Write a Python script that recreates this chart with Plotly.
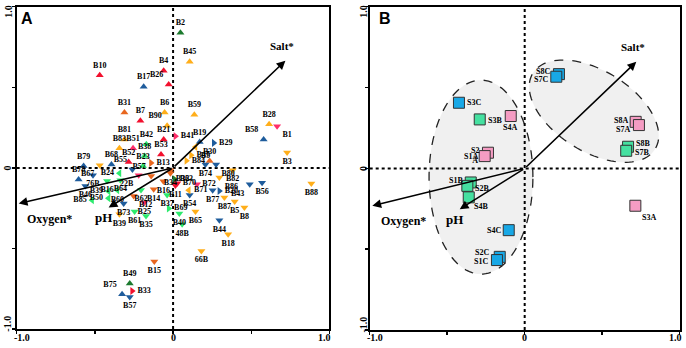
import numpy as np
import plotly.graph_objects as go

# ---------------- Panel A : species scores ----------------
a_labels = ["B2","B45","B10","B4","B17","B26","B31","B6","B59","B7","B90","B28","B1","B58","B81","B21","B41","B19","B29","B83",
            "B51","B42","B9","B53","B38","B52","B47","B30","B84","B23","B13","B79","B68","B67","B74","B80","B82","B3","B88","B43",
            "B56","B78","76B","B46","B24","B85","B16","B64","B39","B50","B60","B62","B14","B16","B34","B63","B70","B11","B37","B54",
            "B71","B72","B86","B20","B77","B87","B5","B8","B44","B18","66B","B65","B40","48B","B69","B35","B61","B39","B73","B12",
            "B25","B15","B49","B75","B33","B57","B55","22B","B32","B57"]
a_x = [0.047,0.106,-0.469,-0.060,-0.188,-0.028,-0.311,-0.054,0.136,-0.209,-0.038,0.614,0.665,0.579,-0.311,-0.060,0.015,0.170,0.260,-0.343,
       -0.256,-0.171,0.143,-0.077,-0.182,-0.284,0.115,0.234,0.085,-0.192,-0.141,-0.572,-0.394,-0.469,0.207,0.275,0.381,0.729,0.884,0.490,
       0.569,-0.604,-0.512,-0.561,-0.343,-0.518,-0.422,-0.337,-0.413,-0.413,-0.356,-0.205,-0.124,-0.062,-0.017,0.008,0.027,0.015,-0.038,0.106,
       0.100,0.153,0.296,0.296,0.253,0.328,0.394,0.456,0.296,0.352,0.181,0.143,0.040,0.058,-0.028,-0.173,-0.246,-0.343,-0.316,-0.252,
       -0.184,-0.120,-0.277,-0.326,-0.262,-0.277,-0.260,-0.220,-0.017,-0.140]
a_y = [0.839,0.658,0.574,0.602,0.503,0.518,0.344,0.344,0.329,0.292,0.261,0.270,0.259,0.176,0.176,0.176,0.197,0.161,0.155,0.122,
       0.122,0.147,0.130,0.083,0.073,0.037,0.079,0.042,0.044,0.011,0.031,0.012,0.021,0.017,0.021,0.021,-0.014,0.096,-0.097,-0.101,
       -0.093,-0.072,-0.045,-0.112,-0.033,-0.201,-0.081,-0.076,-0.145,-0.188,-0.139,-0.137,-0.132,-0.083,-0.033,-0.070,-0.095,-0.110,-0.168,-0.168,
       -0.139,-0.101,-0.060,-0.143,-0.139,-0.184,-0.209,-0.246,-0.325,-0.412,-0.516,-0.271,-0.283,-0.350,-0.252,-0.298,-0.271,-0.288,-0.221,-0.174,
       -0.215,-0.581,-0.718,-0.784,-0.764,-0.801,-0.010,-0.045,-0.014,-0.050]
a_group = ["dkgreen_up","orange_up","red_up","red_up","blue_up","red_up","dkorange_up","orange_up","orange_up","red_up",
           "orange_up","orange_up","pink_down","blue_up","orange_up","red_up","pink_right","blue_up","blue_right","orange_up",
           "pink_up","green_up","orange_left","red_up","green_up","red_up","orange_right","dkorange_up","orange_right","green_up",
           "dkorange_right","blue_up","blue_up","orange_down","blue_down","blue_down","orange_down","orange_down","orange_down","blue_down",
           "blue_down","blue_up","blue_down","blue_down","green_left","green_left","green_down","green_down","green_left","green_left",
           "green_left","green_down","dkorange_down","dkorange_down","dkorange_down","dkgreen_right","red_down","red_down","green_down","blue_down",
           "orange_left","pink_down","orange_down","blue_right","blue_down","orange_down","orange_down","orange_down","blue_down","orange_down",
           "orange_down","orange_down","green_down","green_down","green_right","green_down","green_down","orange_down","blue_down","dkorange_down",
           "pink_down","dkorange_down","dkgreen_up","blue_up","red_right","blue_down","blue_down","pink_down","dkorange_down","dkorange_down"]
a_textpos = ["top center","top center","top center","top center","top center","top left","top center","top center","top center","top center",
             "top left","top center","bottom right","top left","top center","top center","middle right","top center","middle right","top center",
             "top center","top center","bottom right","top center","top center","top center","middle right","top center","middle right","top center",
             "middle right","top center","top center","bottom left","bottom center","bottom right","bottom center","bottom center","bottom center","bottom left",
             "bottom center","top center","bottom center","bottom center","middle left","middle left","bottom center","bottom center","middle left","middle left",
             "bottom center","bottom center","bottom center","bottom center","bottom center","middle right","middle right","bottom center","bottom center","bottom center",
             "middle right","middle right","bottom right","middle right","bottom center","bottom center","bottom center","bottom center","bottom center","bottom center",
             "bottom center","bottom center","bottom center","bottom center","middle right","bottom center","bottom center","bottom center","bottom center","bottom right",
             "bottom center","bottom center","top center","top left","middle right","bottom center","top left","bottom left","bottom right","top left"]

# ---------------- Panel B : sample scores ----------------
b_labels = ["S8C","S7C","S3C","S3B","S4A","S2A","S1A","S8A","S7A","S8B","S7B","S1B","S2B","S4B","S4C","S2C","S1C","S3A"]
b_x = [0.221,0.204,-0.424,-0.290,-0.090,-0.237,-0.258,0.716,0.737,0.667,0.655,-0.348,-0.370,-0.361,-0.103,-0.161,-0.179,0.714]
b_y = [0.583,0.567,0.406,0.303,0.324,0.097,0.076,0.288,0.268,0.134,0.109,-0.087,-0.108,-0.179,-0.382,-0.547,-0.567,-0.231]
b_group = ["C","C","C","B","A","A","A","A","A","B","B","B","B","B","C","C","C","A"]
b_text = ["S8C","S7C","S3C","S3B","S4A","S2<br>A","S1A","S8A","S7A","S8B","S7B","S1B","S2B","S4B","S4C","S2C","S1C","S3A"]

# ---------------- Environmental vectors ----------------
env_names = ["Salt*", "Oxygen*", "pH"]
envA_x = [0.718, -0.987, -0.412]
envA_y = [0.665, -0.221, -0.246]
envB_x = [0.720, -0.983, -0.419]
envB_y = [0.659, -0.231, -0.252]

# ---------------- styles ----------------
colA = {"red": "#F2102E", "pink": "#FF2E6A", "blue": "#1E5C9C", "orange": "#FFAE1A",
        "dkorange": "#E8661E", "green": "#2DEB6E", "dkgreen": "#1C7A2E"}
symA = {"up": "triangle-up", "down": "triangle-down", "left": "triangle-left", "right": "triangle-right"}
colB = {"A": "#F59CC3", "B": "#45E0A0", "C": "#18A8E6"}
# label placement for panel B: (xanchor, xshift px, yshift px)
b_lab_style = {"S8C": ("right", -7, 3), "S7C": ("right", -6, -3), "S3C": ("left", 6, 0), "S3B": ("left", 6, -1),
               "S4A": ("center", -1, -11), "S2A": ("right", -7, -3), "S1A": ("right", -5, 0), "S8A": ("right", -6, 1),
               "S7A": ("right", -7, -4), "S8B": ("left", 6, 3), "S7B": ("left", 7, -2), "S1B": ("right", -6, 2),
               "S2B": ("left", 6, -3), "S4B": ("left", 3, -9), "S4C": ("right", -6, 0), "S2C": ("right", -9, 4),
               "S1C": ("right", -7, -1), "S3A": ("center", 14, -12)}

SERIF = "Liberation Serif, Times New Roman, serif"

fig = go.Figure()

fig.add_trace(go.Scatter(
    x=a_x, y=a_y, mode="markers+text",
    text=["<b>%s</b>" % t for t in a_labels], textposition=a_textpos,
    textfont=dict(family=SERIF, size=8, color="black"),
    marker=dict(size=7, color=[colA[g.split("_")[0]] for g in a_group],
                symbol=[symA[g.split("_")[1]] for g in a_group], line=dict(width=0)),
    xaxis="x", yaxis="y", showlegend=False, cliponaxis=False))

fig.add_trace(go.Scatter(
    x=b_x, y=b_y, mode="markers",
    marker=dict(size=11, color=[colB[g] for g in b_group], symbol="square",
                line=dict(width=1, color="#333333")),
    xaxis="x2", yaxis="y2", showlegend=False, cliponaxis=False))

shapes = []

def ellipse_path(cx, cy, a, b, ang_deg, n=120):
    t = np.linspace(0, 2 * np.pi, n)
    th = np.radians(ang_deg)
    xs = cx + a * np.cos(t) * np.cos(th) - b * np.sin(t) * np.sin(th)
    ys = cy + a * np.cos(t) * np.sin(th) + b * np.sin(t) * np.cos(th)
    return "M " + " L ".join("%.4f,%.4f" % (x, y) for x, y in zip(xs, ys)) + " Z"

for (cx, cy, a, b, ang) in [(-0.282, -0.054, 0.335, 0.60, 0.0), (0.447, 0.354, 0.459, 0.2525, -29.8)]:
    shapes.append(dict(type="path", path=ellipse_path(cx, cy, a, b, ang), xref="x2", yref="y2",
                       fillcolor="#F0F0F0", line=dict(color="#222222", width=1.3, dash="dash"), layer="below"))

for xr, yr in [("x", "y"), ("x2", "y2")]:
    shapes.append(dict(type="line", x0=0, x1=0, y0=-1, y1=1, xref=xr, yref=yr,
                       line=dict(color="black", width=2, dash="dot"), layer="below"))
    shapes.append(dict(type="line", x0=-1, x1=1, y0=0, y1=0, xref=xr, yref=yr,
                       line=dict(color="black", width=2, dash="dot"), layer="below"))

annotations = []
label_off = {"Salt*": (-0.02, 0.09), "Oxygen*": (0.2, -0.095), "pH": (-0.035, -0.065)}
label_size = {"Salt*": 11, "Oxygen*": 12, "pH": 13}
for (xs, ys, xr, yr) in [(envA_x, envA_y, "x", "y"), (envB_x, envB_y, "x2", "y2")]:
    for name, ex, ey in zip(env_names, xs, ys):
        annotations.append(dict(x=ex, y=ey, ax=0, ay=0, xref=xr, yref=yr, axref=xr, ayref=yr,
                                text="", showarrow=True, arrowhead=2, arrowsize=1.1,
                                arrowwidth=1.6, arrowcolor="black"))
        dx, dy = label_off[name]
        annotations.append(dict(x=ex + dx, y=ey + dy, xref=xr, yref=yr, text="<b>%s</b>" % name,
                                showarrow=False, font=dict(family=SERIF, size=label_size[name], color="black")))

# panel B sample labels
for lab, txt, x, y in zip(b_labels, b_text, b_x, b_y):
    xa, xs_, ys_ = b_lab_style[lab]
    annotations.append(dict(x=x, y=y, xref="x2", yref="y2", text="<b>%s</b>" % txt, showarrow=False,
                            xanchor=xa, yanchor="middle", xshift=xs_, yshift=ys_,
                            font=dict(family=SERIF, size=8, color="black")))

annotations.append(dict(x=0.028, y=0.947, xref="paper", yref="paper", text="<b>A</b>", showarrow=False,
                        xanchor="left", yanchor="middle", font=dict(family="Liberation Sans, Arial", size=16, color="black")))
annotations.append(dict(x=0.549, y=0.947, xref="paper", yref="paper", text="<b>B</b>", showarrow=False,
                        xanchor="left", yanchor="middle", font=dict(family="Liberation Sans, Arial", size=16, color="black")))

# tick labels (drawn as text so they sit as in the original)
tick_vals = [-1.0, 0.0, 1.0]
tick_text = ["-1.0", "0", "1.0"]
tick_inset = {-1.0: 0.035, 0.0: 0.0, 1.0: -0.03}
for xr, yr, ypaper_x, xpaper_y in [("x", "y", 0.0112, 0.031), ("x2", "y2", 0.530, 0.031)]:
    for v, t in zip(tick_vals, tick_text):
        annotations.append(dict(x=v + tick_inset[v], y=xpaper_y, xref=xr, yref="paper", text="<b>%s</b>" % t,
                                showarrow=False, xanchor="center", yanchor="middle",
                                font=dict(family=SERIF, size=10, color="black")))
        annotations.append(dict(x=ypaper_x, y=v + tick_inset[v] * 0.9, xref="paper", yref=yr, text="<b>%s</b>" % t,
                                showarrow=False, xanchor="center", yanchor="middle", textangle=-90,
                                font=dict(family=SERIF, size=10, color="black")))

axis_common = dict(range=[-1, 1], tickvals=[-1, -0.5, 0, 0.5, 1], showticklabels=False,
                   showgrid=False, zeroline=False,
                   showline=True, mirror=True, linecolor="black", linewidth=2, ticks="outside",
                   ticklen=3, tickwidth=1.5, tickcolor="black", automargin=False)

fig.update_layout(
    width=686, height=348, margin=dict(l=0, r=0, t=0, b=0),
    paper_bgcolor="white", plot_bgcolor="white", hovermode=False,
    xaxis=dict(domain=[0.0243, 0.4803], anchor="y", **axis_common),
    yaxis=dict(domain=[0.0545, 0.9807], anchor="x", **axis_common),
    xaxis2=dict(domain=[0.5389, 0.9908], anchor="y2", **axis_common),
    yaxis2=dict(domain=[0.0515, 0.9807], anchor="x2", **axis_common),
    shapes=shapes, annotations=annotations,
)

fig.write_html("out.html", config={"displayModeBar": False, "staticPlot": True},
               post_script="document.body.style.margin='0px';document.body.style.overflow='hidden';")
